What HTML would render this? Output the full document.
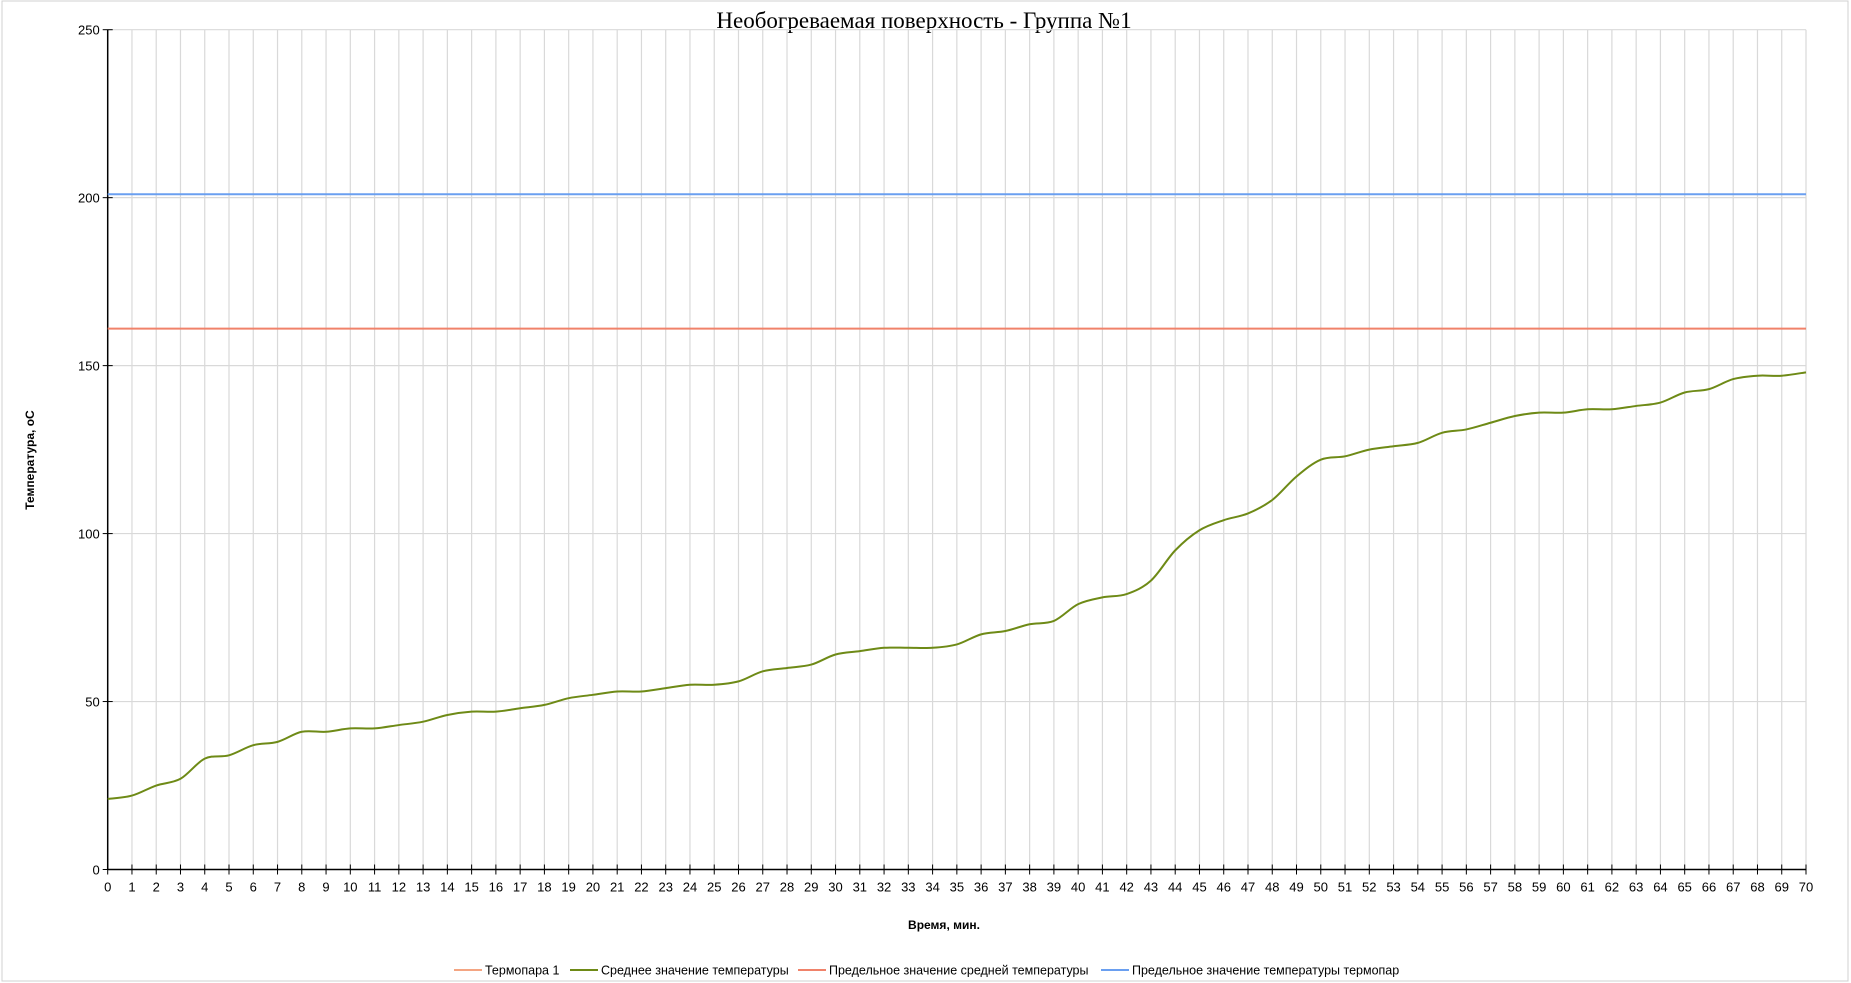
<!DOCTYPE html>
<html><head><meta charset="utf-8"><style>
body{margin:0;background:#fff;}
svg{display:block;font-family:"Liberation Sans",sans-serif;}
</style></head><body>
<svg id="chart" width="1851" height="983">
<rect x="2" y="1" width="1846" height="980" fill="#fff" stroke="#d0d0d0"/>
<text x="924" y="28" text-anchor="middle" font-family="Liberation Serif,serif" font-size="23">Необогреваемая поверхность - Группа №1</text>
<g id="grid"></g><g id="axes"></g><g id="series"></g>
<text transform="translate(34,460) rotate(-90)" text-anchor="middle" font-size="12" font-weight="bold">Температура, оС</text>
<text x="944" y="929" text-anchor="middle" font-size="12" font-weight="bold">Время, мин.</text>
<g id="legend"></g>
</svg>
<script>
const minutes=[];for(let i=0;i<=70;i++)minutes.push(i);
const avgTemp=[21,22,25,27,33,34,37,38,41,41,42,42,43,44,46,47,47,48,49,51,52,53,53,54,55,55,56,59,60,61,64,65,66,66,66,67,70,71,73,74,79,81,82,86,95,101,104,106,110,117,122,123,125,126,127,130,131,133,135,136,136,137,137,138,139,142,143,146,147,147,148];
const limitAvg=161;
const limitThermo=201;
const yTicks=[0,50,100,150,200,250];
const L=107.7,R=1806,T=29.7,B=869.5;
const xs=v=>L+(v-0)/70*(R-L);
const ys=v=>B-v/250*(B-T);
const NS='http://www.w3.org/2000/svg';
function mk(tag,attrs,parent,text){const e=document.createElementNS(NS,tag);for(const k in attrs)e.setAttribute(k,attrs[k]);if(text!==undefined)e.textContent=text;parent.appendChild(e);return e;}
const grid=document.getElementById('grid'),axes=document.getElementById('axes'),series=document.getElementById('series'),legend=document.getElementById('legend');
minutes.forEach(m=>{if(m>0){const g=mk('line',{x1:xs(m),x2:xs(m),y1:T,y2:B,stroke:'#d9d9d9','stroke-width':1.2},grid);

}
const t=mk('line',{x1:xs(m),x2:xs(m),y1:B-5,y2:B+5,stroke:'#000','stroke-width':1},axes);


const l=mk('text',{x:xs(m),y:B+22,'text-anchor':'middle','font-size':13},axes,String(m));

});
yTicks.forEach(v=>{if(v>0){const g=mk('line',{x1:L,x2:R,y1:ys(v),y2:ys(v),stroke:'#d9d9d9','stroke-width':1.2},grid);

}
const t=mk('line',{x1:L-5,x2:L+5,y1:ys(v),y2:ys(v),stroke:'#000'},axes);


const l=mk('text',{x:L-8,y:ys(v)+5,'text-anchor':'end','font-size':13},axes,String(v));

});
const ya=mk('line',{x1:L,x2:L,y1:T,y2:B,stroke:'#000','stroke-width':1.5},axes);


const xa=mk('line',{x1:L,x2:R,y1:B,y2:B,stroke:'#000','stroke-width':1.5},axes);


const la=mk('line',{x1:L,x2:R,y1:ys(limitAvg),y2:ys(limitAvg),stroke:'#f0826a','stroke-width':2},series);


const lt=mk('line',{x1:L,x2:R,y1:ys(limitThermo),y2:ys(limitThermo),stroke:'#6a9ff0','stroke-width':2},series);


const P=minutes.map((m,i)=>[xs(m),ys(avgTemp[i])]);
let d='M'+P[0][0]+','+P[0][1];
for(let i=0;i<P.length-1;i++){const p0=P[i-1]||P[i],p1=P[i],p2=P[i+1],p3=P[i+2]||p2;
d+=' C'+(p1[0]+(p2[0]-p0[0])/6)+','+(p1[1]+(p2[1]-p0[1])/6)+' '+(p2[0]-(p3[0]-p1[0])/6)+','+(p2[1]-(p3[1]-p1[1])/6)+' '+p2[0]+','+p2[1];}
const ap=mk('path',{d:d,fill:'none',stroke:'#6e8a16','stroke-width':2},series);


const items=[['Термопара 1','#f4a582',454,'legend-thermocouple-1'],['Среднее значение температуры','#6e8a16',570,'legend-average-temperature'],['Предельное значение средней температуры','#f0826a',798,'legend-limit-average'],['Предельное значение температуры термопар','#6a9ff0',1101,'legend-limit-thermocouple']];
items.forEach(it=>{const g=mk('g',{},legend);


mk('line',{x1:it[2],x2:it[2]+28,y1:970,y2:970,stroke:it[1],'stroke-width':2},g);
mk('text',{x:it[2]+31,y:974.5,'font-size':12.5},g,it[0]);});
</script>
</body></html>
